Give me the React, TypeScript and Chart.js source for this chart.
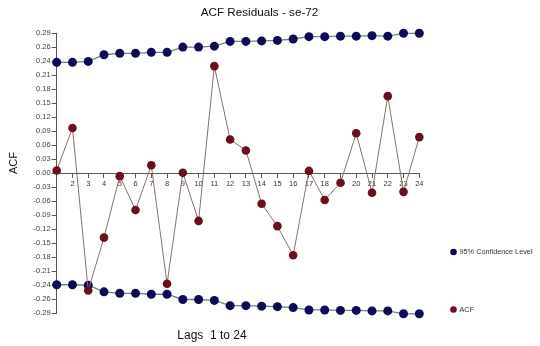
import React, { useEffect, useRef } from "react";
import { Chart, registerables } from "chart.js";

Chart.register(...registerables);

const title = "ACF Residuals - se-72";
const xTitle = "Lags  1 to 24";
const yTitle = "ACF";
const lags = [1, 2, 3, 4, 5, 6, 7, 8, 9, 10, 11, 12, 13, 14, 15, 16, 17, 18, 19, 20, 21, 22, 23, 24];
const acf = [0.006, 0.095, -0.246, -0.135, -0.006, -0.077, 0.017, -0.232, 0.001, -0.1, 0.225, 0.071, 0.048, -0.064, -0.111, -0.172, 0.005, -0.056, -0.02, 0.084, -0.041, 0.162, -0.039, 0.076];
const confUpper = [0.233, 0.233, 0.235, 0.249, 0.252, 0.252, 0.254, 0.254, 0.265, 0.265, 0.267, 0.277, 0.277, 0.278, 0.279, 0.282, 0.287, 0.287, 0.288, 0.288, 0.289, 0.288, 0.294, 0.294];
const confLower = [-0.234, -0.234, -0.235, -0.249, -0.252, -0.252, -0.254, -0.254, -0.265, -0.265, -0.267, -0.278, -0.278, -0.279, -0.28, -0.282, -0.287, -0.287, -0.288, -0.288, -0.289, -0.289, -0.295, -0.295];
const yLimit = 0.294;
const yStep = 0.0294;
const legendLabels = ["95% Confidence Level", "ACF"];

const CONF_POINT = "#0c0c56";
const CONF_LINE = "#7a7a8a";
const ACF_POINT = "#6a0f1c";
const ACF_LINE = "#8a6f6f";

export default function App() {
  const ref = useRef<HTMLCanvasElement>(null);
  useEffect(() => {
    if (!ref.current) return;
    const textPlugin = {
      id: "texts",
      afterDraw(chart: any) {
        const ctx = chart.ctx;
        ctx.save();
        ctx.fillStyle = "#111";
        ctx.textBaseline = "middle";
        ctx.textAlign = "center";
        ctx.font = "11.7px 'Liberation Sans', Arial, sans-serif";
        ctx.fillText(title, 259.5, 12.7);
        ctx.font = "12px 'Liberation Sans', Arial, sans-serif";
        ctx.fillText(xTitle, 212, 336);
        ctx.save();
        ctx.translate(14, 163);
        ctx.rotate(-Math.PI / 2);
        ctx.font = "11px 'Liberation Sans', Arial, sans-serif";
        ctx.fillText(yTitle, 0, 0);
        ctx.restore();
        // legend
        const items = [
          { label: legendLabels[0], color: CONF_POINT, y: 252 },
          { label: legendLabels[1], color: ACF_POINT, y: 309.5 },
        ];
        ctx.textAlign = "left";
        ctx.font = "7.3px 'Liberation Sans', Arial, sans-serif";
        items.forEach((it) => {
          ctx.beginPath();
          ctx.fillStyle = it.color;
          ctx.arc(453.5, it.y, 3.3, 0, Math.PI * 2);
          ctx.fill();
          ctx.fillStyle = "#333";
          ctx.fillText(it.label, 459.5, it.y);
        });
        ctx.restore();
      },
    };
    const tickFont = { family: "'Liberation Sans', Arial, sans-serif", size: 7.5 };
    const chart = new Chart(ref.current, {
      type: "line",
      data: {
        datasets: [
          {
            label: "ACF",
            data: lags.map((l, i) => ({ x: l, y: acf[i] })),
            borderColor: ACF_LINE,
            borderWidth: 1,
            pointBackgroundColor: ACF_POINT,
            pointBorderColor: ACF_POINT,
            pointRadius: 4.3,
            pointBorderWidth: 0,
            tension: 0,
            clip: false,
            order: 0,
          },
          {
            label: "95% Confidence Level",
            data: lags.map((l, i) => ({ x: l, y: confUpper[i] })),
            borderColor: CONF_LINE,
            borderWidth: 1.3,
            pointBackgroundColor: CONF_POINT,
            pointBorderColor: CONF_POINT,
            pointRadius: 4.5,
            pointBorderWidth: 0,
            tension: 0,
            clip: false,
            order: 1,
          },
          {
            label: "95% Confidence Level (lower)",
            data: lags.map((l, i) => ({ x: l, y: confLower[i] })),
            borderColor: CONF_LINE,
            borderWidth: 1.3,
            pointBackgroundColor: CONF_POINT,
            pointBorderColor: CONF_POINT,
            pointRadius: 4.5,
            pointBorderWidth: 0,
            tension: 0,
            clip: false,
            order: 2,
          },
        ],
      },
      options: {
        animation: false,
        responsive: false,
        maintainAspectRatio: false,
        layout: { padding: { left: 0, top: 33.3, right: 120.7, bottom: 32.7 } },
        plugins: {
          legend: { display: false },
          title: { display: false },
          tooltip: { enabled: false },
        },
        scales: {
          x: {
            type: "linear",
            position: { y: 0 } as any,
            min: 1,
            max: 24,
            afterBuildTicks(scale: any) {
              scale.ticks = lags.slice(1).map((v) => ({ value: v }));
            },
            grid: { drawOnChartArea: false, drawTicks: true, tickLength: 4, color: "#555" },
            border: { display: true, color: "#555", width: 1 },
            ticks: {
              color: "#333",
              font: tickFont,
              padding: 2,
              maxRotation: 0,
              autoSkip: false,
              callback: (v: any) => String(v),
            },
          },
          y: {
            type: "linear",
            min: -yLimit,
            max: yLimit,
            afterBuildTicks(scale: any) {
              const t = [];
              for (let k = -10; k <= 10; k++) t.push({ value: k * yStep });
              scale.ticks = t;
            },
            afterFit(scale: any) {
              scale.width = 56.7;
            },
            grid: { drawOnChartArea: false, drawTicks: true, tickLength: 5, color: "#555" },
            border: { display: true, color: "#555", width: 1 },
            ticks: {
              color: "#444",
              font: tickFont,
              padding: 1,
              autoSkip: false,
              callback: (v: any) => {
                const n = Number(v);
                return (Math.abs(n) < 1e-9 ? 0 : n).toFixed(2);
              },
            },
          },
        },
      },
      plugins: [textPlugin],
    });
    return () => chart.destroy();
  }, []);
  return (
    <div style={{ position: "fixed", left: 0, top: 0, width: 540, height: 346, background: "#fff" }}>
      <canvas ref={ref} width={540} height={346} style={{ width: 540, height: 346 }} />
    </div>
  );
}
